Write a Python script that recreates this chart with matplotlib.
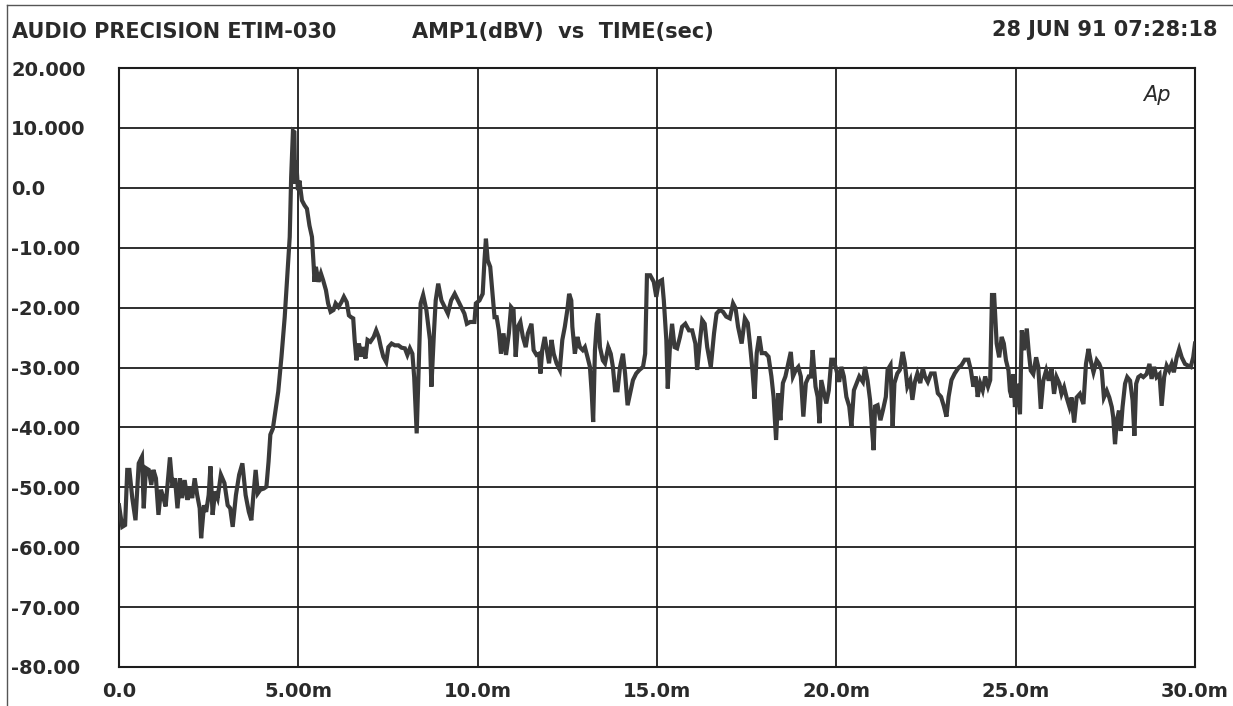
import matplotlib
matplotlib.use("Agg")
import matplotlib.pyplot as plt
from matplotlib.lines import Line2D

# Measured burst response: time in milliseconds, level in dBV
time_ms = [
    0.00, 0.09, 0.17, 0.23, 0.29, 0.37, 0.46, 0.55, 0.64, 0.69, 0.75, 0.83,
    0.90, 0.96, 1.03, 1.10, 1.17, 1.24, 1.30, 1.36, 1.42, 1.49, 1.56, 1.63,
    1.70, 1.76, 1.83, 1.91, 1.97, 2.04, 2.11, 2.18, 2.25, 2.29, 2.37, 2.43,
    2.50, 2.55, 2.61, 2.68, 2.75, 2.84, 2.94, 3.03, 3.10, 3.17, 3.26, 3.35,
    3.44, 3.53, 3.62, 3.69, 3.74, 3.81, 3.87, 3.94, 4.04, 4.11, 4.17, 4.22,
    4.29, 4.36,
    4.44, 4.53, 4.62, 4.69, 4.76, 4.80, 4.85, 4.89, 4.91, 4.94, 4.99, 5.03,
    5.10, 5.17, 5.24, 5.31, 5.38, 5.43, 5.45, 5.49, 5.56, 5.63, 5.69, 5.77,
    5.83, 5.90, 5.98, 6.04, 6.12, 6.20, 6.27, 6.35, 6.41, 6.47, 6.53, 6.57,
    6.62, 6.69, 6.75, 6.80, 6.87, 6.93, 7.01, 7.10, 7.17, 7.24, 7.30, 7.37,
    7.45, 7.51, 7.60, 7.69, 7.79, 7.88, 7.97, 8.04, 8.11, 8.18, 8.23,
    8.30, 8.34, 8.41, 8.48, 8.57, 8.67, 8.71, 8.78, 8.83, 8.90, 8.99, 9.08,
    9.17, 9.26, 9.36, 9.45, 9.54, 9.63, 9.70, 9.79, 9.91, 9.95, 10.05, 10.14,
    10.19, 10.23, 10.28, 10.35, 10.42, 10.47, 10.53, 10.59, 10.65, 10.72, 10.79, 10.87,
    10.93, 11.00, 11.06, 11.12, 11.19, 11.26, 11.34, 11.40, 11.50, 11.56, 11.64, 11.71,
    11.75, 11.80, 11.87, 11.93, 11.99, 12.06, 12.12, 12.20, 12.29, 12.36, 12.43, 12.50,
    12.55, 12.61, 12.64, 12.71, 12.78, 12.85, 12.93, 12.99, 13.06, 13.13, 13.18, 13.22,
    13.27, 13.32, 13.36, 13.41, 13.49, 13.55, 13.64, 13.71, 13.77, 13.83, 13.90, 13.97,
    14.05, 14.11, 14.18, 14.25, 14.33, 14.42, 14.51, 14.61, 14.67, 14.72, 14.81, 14.91,
    14.98, 15.05, 15.14, 15.19, 15.26, 15.30, 15.36, 15.42, 15.49, 15.56, 15.64, 15.70,
    15.79, 15.89, 15.98, 16.07, 16.12, 16.20, 16.26, 16.33, 16.40, 16.50, 16.59, 16.66,
    16.75, 16.84, 16.93, 17.03, 17.12, 17.19, 17.26, 17.36, 17.45, 17.53, 17.59, 17.66,
    17.72, 17.78, 17.85, 17.92, 18.02, 18.11, 18.19, 18.25, 18.32, 18.38, 18.44, 18.51,
    18.58, 18.66, 18.73, 18.79, 18.87, 18.94, 19.01, 19.08, 19.15, 19.23, 19.29, 19.34,
    19.42, 19.48, 19.53, 19.58, 19.64, 19.72, 19.79, 19.86, 19.92, 20.00, 20.08, 20.14,
    20.21, 20.28, 20.36, 20.42, 20.49, 20.57, 20.64, 20.74, 20.80, 20.87, 20.94, 20.99,
    21.04, 21.08, 21.15, 21.23, 21.30, 21.38, 21.43, 21.51, 21.57, 21.62, 21.70, 21.77,
    21.85, 21.91, 21.98, 22.06, 22.12, 22.19, 22.26, 22.34, 22.41, 22.47, 22.55, 22.64,
    22.74, 22.83, 22.92, 23.00, 23.07, 23.13, 23.21, 23.30, 23.40, 23.49, 23.58, 23.68,
    23.75, 23.82, 23.89, 23.94, 24.01, 24.08, 24.15, 24.23, 24.29, 24.34, 24.40,
    24.47, 24.54, 24.61, 24.67, 24.73, 24.80, 24.84, 24.89, 24.93, 24.98, 25.03, 25.07,
    25.12, 25.17, 25.23, 25.31, 25.36, 25.42, 25.49, 25.57, 25.63, 25.70, 25.77, 25.85,
    25.92, 26.00, 26.07, 26.14, 26.22, 26.28, 26.35, 26.42, 26.50, 26.56, 26.63, 26.70,
    26.79, 26.89, 26.96, 27.03, 27.09, 27.17, 27.26, 27.33, 27.40, 27.46, 27.54, 27.61,
    27.68, 27.72, 27.77, 27.82, 27.88, 27.93, 27.98, 28.05, 28.11, 28.19, 28.26, 28.31,
    28.36, 28.42, 28.49, 28.56, 28.65, 28.73, 28.79, 28.86, 28.93, 29.01, 29.07, 29.14,
    29.21, 29.28, 29.35, 29.41, 29.49, 29.56, 29.63, 29.72, 29.81, 29.88, 29.95, 30.00,
]

level_dbv = [
    -53.0, -56.6, -56.3, -47.1, -47.1, -51.8, -55.5, -46.0, -44.9, -53.5, -46.8, -47.1,
    -49.6, -47.1, -48.5, -54.6, -50.4, -51.8, -53.2, -49.0, -45.0, -49.9, -48.5, -53.5,
    -48.5, -51.8, -48.8, -52.1, -49.9, -51.8, -48.5, -51.3, -53.5, -58.5, -53.0, -54.1,
    -51.3, -46.5, -54.6, -50.7, -51.8, -47.9, -49.3, -53.0, -53.5, -56.6, -51.3, -47.9,
    -46.0, -51.3, -54.1, -55.5, -51.8, -47.1, -51.0, -50.4, -50.2, -49.9, -45.7, -41.2,
    -40.2, -37.3,
    -34.0, -28.2, -21.6, -14.9, -8.2, 1.8, 9.5, 9.3, 0.7, 4.6, -0.4, 1.2,
    -2.1, -2.9, -3.5, -6.3, -8.2, -13.2, -15.7, -13.2, -15.7, -14.3, -15.4, -17.1,
    -19.3, -20.7, -20.4, -19.3, -19.9, -19.1, -18.2, -19.1, -21.3, -21.6, -21.8, -25.4,
    -28.8, -26.0, -28.2, -26.6, -28.5, -25.4, -25.7, -24.9, -23.8, -24.9, -26.6, -28.2,
    -29.1, -26.6, -26.0, -26.3, -26.3, -26.7, -26.8, -27.9, -26.8, -27.7, -31.6,
    -41.0, -33.2, -19.3, -17.9, -20.4, -25.4, -33.2, -24.3, -18.8, -16.0, -18.8, -19.9,
    -21.0, -18.8, -17.7, -18.8, -19.9, -21.0, -22.7, -22.4, -22.4, -19.3, -18.8, -17.7,
    -12.1, -8.5, -12.1, -13.2, -18.2, -21.6, -21.6, -23.8, -27.7, -24.3, -27.9, -24.3,
    -19.9, -20.4, -28.2, -23.2, -22.4, -24.9, -26.6, -24.3, -22.7, -27.1, -27.9, -27.7,
    -31.0, -27.1, -24.9, -27.1, -29.3, -25.4, -27.7, -29.3, -30.4, -25.4, -23.2, -20.4,
    -17.7, -18.8, -23.2, -27.7, -24.9, -26.6, -27.1, -26.6, -28.2, -29.9, -34.3, -39.1,
    -27.1, -22.7, -21.0, -26.6, -28.8, -29.3, -26.6, -27.7, -29.9, -33.8, -33.8, -29.9,
    -27.7, -31.0, -36.3, -34.3, -32.1, -31.0, -30.4, -29.9, -27.7, -14.6, -14.6, -15.7,
    -18.2, -15.7, -15.4, -18.8, -25.4, -33.5, -26.6, -22.7, -26.6, -26.8, -24.9, -23.2,
    -22.7, -23.8, -23.8, -26.0, -30.4, -25.4, -22.1, -22.7, -26.6, -29.9, -24.3, -21.0,
    -20.4, -20.7, -21.5, -21.8, -19.3, -20.1, -23.2, -26.0, -21.8, -22.6, -26.0, -30.4,
    -35.2, -27.6, -24.8, -27.6, -27.6, -28.2, -31.5, -34.9, -42.1, -34.3, -38.8, -32.6,
    -31.5, -29.3, -27.4, -31.5, -30.4, -29.9, -31.5, -38.2, -32.6, -31.5, -31.5, -27.1,
    -33.2, -34.9, -39.3, -32.1, -33.8, -36.0, -33.8, -28.7, -28.7, -30.4, -32.4, -29.9,
    -31.5, -34.9, -36.5, -39.9, -33.8, -32.6, -31.5, -32.4, -29.9, -32.1, -35.4, -39.9,
    -43.8, -36.5, -36.3, -38.8, -37.1, -34.9, -30.4, -29.6, -39.9, -32.6, -31.0, -30.4,
    -27.4, -29.3, -33.2, -32.1, -35.4, -32.4, -31.0, -32.6, -30.1, -31.5, -32.4, -31.0,
    -31.0, -34.3, -34.9, -36.5, -38.2, -34.9, -32.1, -31.0, -30.1, -29.6, -28.7, -28.7,
    -30.4, -33.2, -31.5, -34.9, -32.6, -33.8, -31.5, -33.2, -32.1, -17.9, -17.9,
    -26.0, -28.3, -24.9, -26.0, -28.8, -30.5, -33.9, -35.0, -31.1, -36.6, -32.7, -35.0,
    -37.8, -23.8, -27.1, -23.5, -27.1, -30.5, -31.1, -28.3, -29.9, -36.9, -32.2, -30.5,
    -32.2, -30.2, -34.4, -31.6, -32.7, -34.4, -33.3, -35.0, -36.6, -35.0, -39.2, -35.0,
    -34.4, -36.1, -29.4, -26.9, -28.8, -30.8, -28.8, -29.4, -30.5, -35.0, -33.9, -35.0,
    -36.6, -38.3, -42.8, -38.9, -37.2, -40.6, -36.6, -32.7, -31.6, -32.2, -35.5, -41.4,
    -32.7, -31.6, -31.3, -31.6, -31.1, -29.4, -31.9, -29.9, -31.6, -31.1, -36.4, -31.6,
    -29.7, -30.5, -29.4, -30.8, -28.3, -26.9, -28.3, -29.4, -29.7, -29.9, -28.3, -26.0,
]

x_ticks = [0, 5, 10, 15, 20, 25, 30]
x_tick_labels = ["0.0", "5.00m", "10.0m", "15.0m", "20.0m", "25.0m", "30.0m"]
y_ticks = [20, 10, 0, -10, -20, -30, -40, -50, -60, -70, -80]
y_tick_labels = ["20.000", "10.000", "0.0", "-10.00", "-20.00", "-30.00",
                 "-40.00", "-50.00", "-60.00", "-70.00", "-80.00"]

assert len(time_ms) == len(level_dbv)

W, H = 1233, 706
fig = plt.figure(figsize=(W / 100, H / 100), dpi=100)
fig.patch.set_facecolor("white")

left, right, top, bottom = 119, 1195, 68, 667
ax = fig.add_axes([left / W, 1 - bottom / H, (right - left) / W, (bottom - top) / H])

ink = "#1c1c1c"
label_font = dict(family="DejaVu Sans", weight="bold", size=14, color="#2a2a2a")

ax.plot(time_ms, level_dbv, color="#3a3a3a", lw=3.0, solid_joinstyle="miter", zorder=3)

ax.set_xlim(0, 30)
ax.set_ylim(-80, 20)
ax.set_xticks(x_ticks)
ax.set_xticklabels(x_tick_labels, **label_font)
ax.set_yticks(y_ticks)
ax.set_yticklabels(y_tick_labels, ha="left", **label_font)
ax.tick_params(axis="y", length=0, pad=(left - 11) * 0.72)
ax.tick_params(axis="x", length=0, pad=11)
ax.grid(True, color=ink, lw=1.3)
for s in ax.spines.values():
    s.set_color(ink)
    s.set_linewidth(1.5)

# Header line
head = dict(family="DejaVu Sans", weight="bold", size=15, color="#2a2a2a", va="center")
fig.text(12 / W, 1 - 32 / H, "AUDIO PRECISION ETIM-030", ha="left", **head)
fig.text(412 / W, 1 - 32 / H, "AMP1(dBV)  vs  TIME(sec)", ha="left", **head)
fig.text(1218 / W, 1 - 30 / H, "28 JUN 91 07:28:18", ha="right", **head)

# Instrument logo in the plot corner
ax.text(0.965, 0.955, "Ap", transform=ax.transAxes, ha="center", va="center",
        family="DejaVu Sans", style="italic", weight="light", size=15, color="#2a2a2a")

# Page border along the top and left
fig.add_artist(Line2D([7 / W, 1], [1 - 5 / H, 1 - 5 / H], color="#555555", lw=1.0,
                      transform=fig.transFigure))
fig.add_artist(Line2D([7 / W, 7 / W], [0, 1 - 5 / H], color="#555555", lw=1.0,
                      transform=fig.transFigure))

fig.savefig("out.png", dpi=100, facecolor="white")
